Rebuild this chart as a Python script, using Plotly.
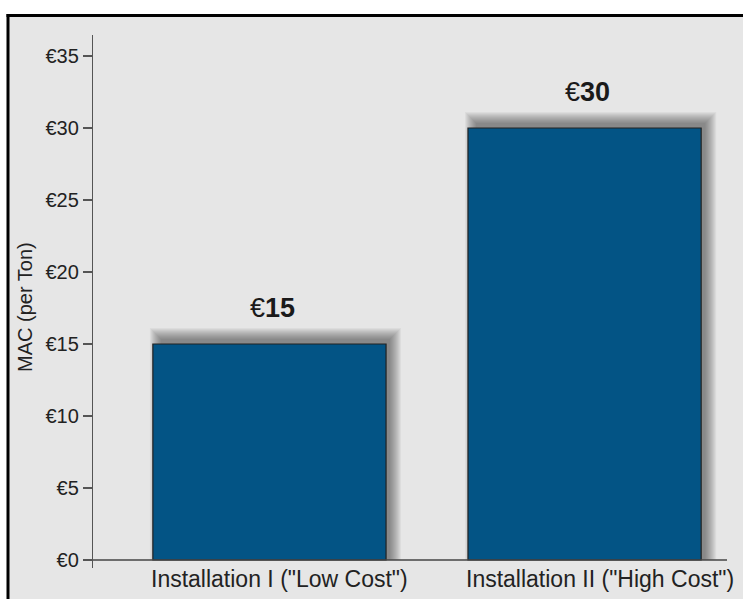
import plotly.graph_objects as go

categories = ['Installation I ("Low Cost")', 'Installation II ("High Cost")']
values = [15, 30]
bar_labels = ["€15", "€30"]
tick_vals = [0, 5, 10, 15, 20, 25, 30, 35]
tick_text = ["€0", "€5", "€10", "€15", "€20", "€25", "€30", "€35"]

W, H = 743, 599
L, T = 93, 35
PLOT_R_PAGE, PLOT_B_PAGE = 727, 568
R = W - PLOT_R_PAGE
B = H - PLOT_B_PAGE
pw, ph = W - L - R, H - T - B
xr = [-0.56, 1.452]
yr = [-0.556, 36.46]
ppx = pw / (xr[1] - xr[0])
ppy = ph / (yr[1] - yr[0])

FONT = "Liberation Sans, Arial, sans-serif"
BG = "#e6e6e6"
BAR = "#035485"
bw = 0.74
xs = list(range(len(categories)))


def px2paper_x(px):
    return (px - L) / pw


def px2paper_y(py):
    return (H - B - py) / ph


fig = go.Figure()
fig.add_trace(go.Bar(
    x=xs, y=values, width=bw,
    marker=dict(color=BAR, line=dict(color="#222222", width=1.2)),
    hoverinfo="skip", showlegend=False,
))

shapes = []
# frame: gray fill with black left and top edges (right/bottom lie outside the view)
shapes.append(dict(type="rect", xref="paper", yref="paper",
                   x0=px2paper_x(0), x1=px2paper_x(W),
                   y0=px2paper_y(H), y1=px2paper_y(0),
                   fillcolor="white", line=dict(width=0), layer="below"))
shapes.append(dict(type="rect", xref="paper", yref="paper",
                   x0=px2paper_x(8), x1=px2paper_x(W),
                   y0=px2paper_y(H), y1=px2paper_y(15.5),
                   fillcolor=BG, line=dict(width=0), layer="below"))
shapes.append(dict(type="line", xref="paper", yref="paper",
                   x0=px2paper_x(8), x1=px2paper_x(8),
                   y0=px2paper_y(H), y1=px2paper_y(14),
                   line=dict(color="black", width=3), layer="above"))
shapes.append(dict(type="line", xref="paper", yref="paper",
                   x0=px2paper_x(6.5), x1=px2paper_x(W),
                   y0=px2paper_y(15.5), y1=px2paper_y(15.5),
                   line=dict(color="black", width=3), layer="above"))

# soft shadows behind bars
N = 11
a = 0.05
for x, v in zip(xs, values):
    cx0 = x - bw / 2 + 8 / ppx
    cx1 = x + bw / 2 + 4 / ppx
    cy1 = v + 5 / ppy
    for k in range(N, -1, -1):
        shapes.append(dict(
            type="rect", xref="x", yref="y",
            x0=cx0 - k / ppx, x1=cx1 + k / ppx,
            y0=0, y1=cy1 + k / ppy,
            fillcolor=f"rgba(30,30,30,{a})", line=dict(width=0), layer="below"))

shapes.append(dict(type="line", xref="paper", yref="y", x0=0, x1=1, y0=0, y1=0,
                   line=dict(color="#444444", width=1.5), layer="above"))

annotations = []
for x, v, lab in zip(xs, values, bar_labels):
    annotations.append(dict(x=x + 0.01, y=v, xref="x", yref="y",
                            text=lab[0] + "<b>" + lab[1:] + "</b>",
                            showarrow=False, yanchor="middle", yshift=36,
                            font=dict(family=FONT, size=27, color="#1a1a1a")))
for x, c in zip(xs, categories):
    annotations.append(dict(x=x - bw / 2, y=px2paper_y(579), xref="x", yref="paper", text=c,
                            showarrow=False, xanchor="left", yanchor="middle", xshift=-4,
                            font=dict(family=FONT, size=23, color="#222222")))
annotations.append(dict(x=px2paper_x(25), y=px2paper_y(307), xref="paper", yref="paper",
                        text="MAC (per Ton)", textangle=-90, showarrow=False,
                        xanchor="center", yanchor="middle",
                        font=dict(family=FONT, size=20, color="#222222")))

fig.update_layout(
    width=W, height=H,
    margin=dict(l=L, r=R, t=T, b=B, pad=0),
    paper_bgcolor=BG, plot_bgcolor=BG,
    shapes=shapes, annotations=annotations,
    hovermode=False,
    xaxis=dict(range=xr, showgrid=False, zeroline=False, showline=False,
               showticklabels=False, ticks="", fixedrange=True),
    yaxis=dict(range=yr, tickvals=tick_vals, ticktext=tick_text, showgrid=False,
               zeroline=False, showline=True, linecolor="#555555", linewidth=1.2,
               ticks="outside", ticklen=9, tickcolor="#555555", tickwidth=1.2,
               tickfont=dict(family=FONT, size=20, color="#222222"), fixedrange=True),
    bargap=0,
)
fig.write_html("out.html", config={"displayModeBar": False, "staticPlot": True},
               post_script="document.body.style.margin='0';document.body.style.overflow='hidden';")
